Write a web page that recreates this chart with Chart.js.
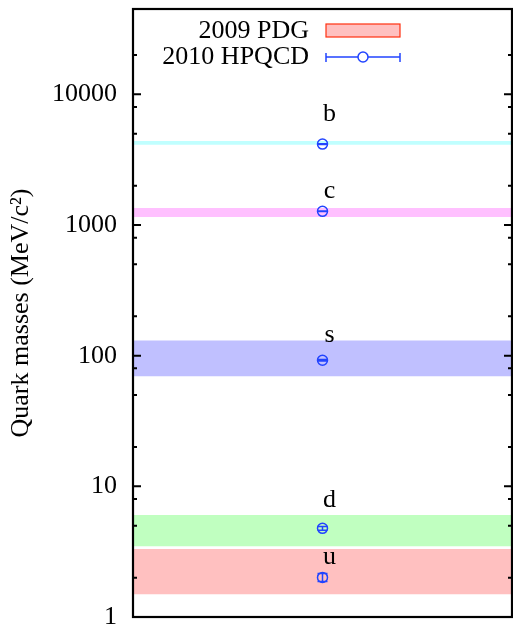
<!DOCTYPE html>
<html>
<head>
<meta charset="utf-8">
<script src="https://cdn.jsdelivr.net/npm/chart.js@4.4.1/dist/chart.umd.min.js"></script>
<style>
  html, body { margin: 0; padding: 0; background: #fff; overflow: hidden; }
  canvas { display: block; }
</style>
</head>
<body>
<canvas id="chartQuarks" width="513" height="627"></canvas>
<script>
// Quark masses: PDG 2009 ranges vs HPQCD 2010 lattice results (MeV/c^2)
const quarks = ['b', 'c', 's', 'd', 'u'];
const pdgLow = [4130, 1160, 70, 3.5, 1.5];
const pdgHigh = [4370, 1340, 130, 6.0, 3.3];
const bandColors = ['#c0ffff', '#ffc0ff', '#c0c0ff', '#c0ffc0', '#ffc0c0'];
const hpqcdMass = [4164, 1273, 92.2, 4.77, 2.01];
const hpqcdErr = [23, 6, 1.3, 0.15, 0.14];
const labelAt = [7000, 1800, 144, 7.9, 2.88];   // y value where the quark letter sits
const majorTicks = [1, 10, 100, 1000, 10000];
const minorTicks = [2, 5, 8, 20, 50, 80, 200, 500, 800, 2000, 5000, 8000, 20000];

const serif = "'Liberation Serif', 'DejaVu Serif', serif";
const blue = '#2244ff';

// error bars, quark letters, frame, inward ticks and the legend
const decorations = {
  id: 'decorations',
  afterDatasetsDraw(chart) {
    const { ctx, chartArea: a, scales: { x, y } } = chart;
    const cx = x.getPixelForValue(0);
    ctx.save();

    // error bars
    ctx.strokeStyle = blue;
    ctx.lineWidth = 1.5;
    hpqcdMass.forEach((m, i) => {
      const top = y.getPixelForValue(m + hpqcdErr[i]);
      const bot = y.getPixelForValue(m - hpqcdErr[i]);
      ctx.beginPath();
      ctx.moveTo(cx, top); ctx.lineTo(cx, bot);
      ctx.moveTo(cx - 5, top); ctx.lineTo(cx + 5, top);
      ctx.moveTo(cx - 5, bot); ctx.lineTo(cx + 5, bot);
      ctx.stroke();
    });

    // quark letters
    ctx.fillStyle = '#000';
    ctx.font = '26px ' + serif;
    ctx.textAlign = 'center';
    ctx.textBaseline = 'middle';
    quarks.forEach((q, i) => ctx.fillText(q, cx + 7, y.getPixelForValue(labelAt[i])));

    // inward ticks on both sides
    ctx.strokeStyle = '#000';
    ctx.lineWidth = 2;
    const tick = (v, len) => {
      const py = y.getPixelForValue(v);
      ctx.beginPath();
      ctx.moveTo(a.left, py); ctx.lineTo(a.left + len, py);
      ctx.moveTo(a.right, py); ctx.lineTo(a.right - len, py);
      ctx.stroke();
    };
    majorTicks.forEach(v => tick(v, 8));
    minorTicks.forEach(v => tick(v, 4));

    // frame
    ctx.lineWidth = 2.2;
    ctx.strokeRect(a.left, a.top, a.right - a.left, a.bottom - a.top);

    // legend
    ctx.font = '26px ' + serif;
    ctx.textAlign = 'right';
    ctx.fillStyle = '#000';
    ctx.fillText('2009 PDG', 309, 31);
    ctx.fillText('2010 HPQCD', 309, 57);
    ctx.fillStyle = '#ffc0c0';
    ctx.fillRect(326, 24, 74, 13);
    ctx.strokeStyle = '#ff3010';
    ctx.lineWidth = 1.2;
    ctx.strokeRect(326, 24, 74, 13);
    ctx.strokeStyle = blue;
    ctx.lineWidth = 1.5;
    ctx.beginPath();
    ctx.moveTo(326, 57); ctx.lineTo(358, 57);
    ctx.moveTo(368, 57); ctx.lineTo(400, 57);
    ctx.moveTo(326, 53); ctx.lineTo(326, 62);
    ctx.moveTo(400, 53); ctx.lineTo(400, 62);
    ctx.stroke();
    ctx.beginPath();
    ctx.arc(363, 57, 5, 0, Math.PI * 2);
    ctx.stroke();

    ctx.restore();
  }
};

const bandSets = quarks.map((q, i) => ({
  type: 'bar',
  label: q + ' PDG',
  data: [[pdgLow[i], pdgHigh[i]]],
  backgroundColor: bandColors[i],
  borderWidth: 0,
  grouped: false,
  barPercentage: 1,
  categoryPercentage: 1,
  order: 2,
}));

new Chart(document.getElementById('chartQuarks'), {
  type: 'bar',
  data: {
    labels: [''],
    datasets: [
      ...bandSets,
      {
        type: 'line',
        label: '2010 HPQCD',
        data: hpqcdMass.map(m => ({ x: '', y: m })),
        showLine: false,
        pointStyle: 'circle',
        pointRadius: 5,
        pointBorderWidth: 1.5,
        pointBorderColor: blue,
        pointBackgroundColor: 'rgba(0,0,0,0)',
        order: 1,
      },
    ],
  },
  options: {
    responsive: false,
    animation: false,
    layout: { autoPadding: false, padding: { top: 9, right: 1, bottom: 10, left: 0 } },
    plugins: {
      legend: { display: false },
      tooltip: { enabled: false },
    },
    scales: {
      x: {
        display: false,
        offset: true,
      },
      y: {
        type: 'logarithmic',
        min: 1,
        max: 45000,
        afterBuildTicks: s => { s.ticks = majorTicks.map(v => ({ value: v })); },
        afterFit: s => {
          s.width = 133;
          s.paddingTop = 0; s.paddingBottom = 0;
          s.paddingLeft = 0; s.paddingRight = 0;
        },
        grid: { display: false, drawTicks: false },
        border: { display: false },
        ticks: {
          padding: 16,
          color: '#000',
          font: { family: serif, size: 26 },
          callback: v => String(v),
        },
        title: {
          display: true,
          text: 'Quark masses (MeV/c²)',
          color: '#000',
          font: { family: serif, size: 26 },
          padding: { top: 6, bottom: 0 },
        },
      },
    },
  },
  plugins: [decorations],
});
</script>
</body>
</html>
